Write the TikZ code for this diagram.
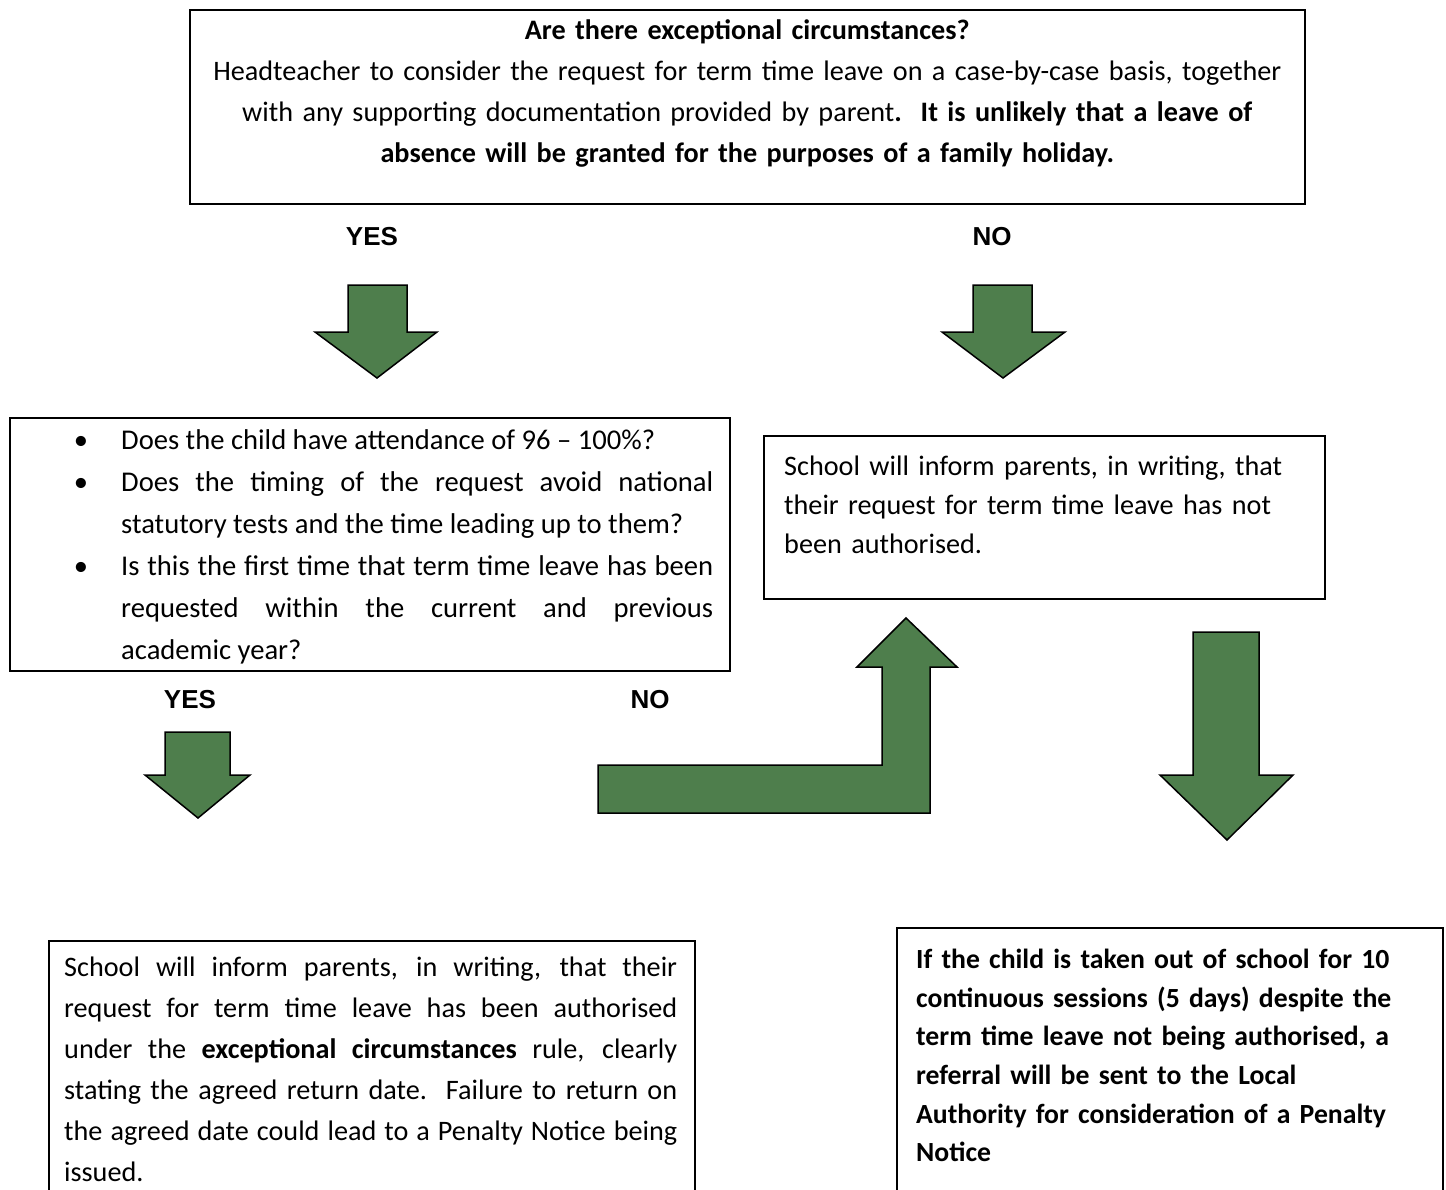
\documentclass[tikz,border=0pt]{standalone}
\usepackage{fontspec}
\setmainfont{Carlito}
\newfontfamily\arialfont{Liberation Sans}
\usetikzlibrary{positioning,calc}
\definecolor{arrowGreen}{RGB}{78,126,76}
\tikzstyle{bX}=[draw,line width=1.5pt,inner sep=0pt,anchor=north west]
\tikzstyle{tX}=[inner sep=0pt,anchor=north west,font=\fontsize{28.2}{41}\selectfont]
\tikzstyle{lbl}=[inner sep=0pt,font=\arialfont\bfseries\fontsize{26}{30}\selectfont]
\tikzstyle{bArrow}=[fill=arrowGreen,draw=black,line width=1.5pt,line join=miter]
\newcommand{\bItem}{\noindent\llap{\textbullet\hspace{33pt}}}

\begin{document}
\begin{tikzpicture}[x=1pt,y=-1pt]%[x=1 px, y=-1 px]
\useasboundingbox (0,0) rectangle (1446,1189);
                \node[bX,minimum width=1115pt,minimum height=194pt] (qBox) at (189,9) {};
                \node[bX,minimum width=720pt,minimum height=253pt] (critBox) at (9,417) {};
                \node[bX,minimum width=561pt,minimum height=163pt] (refBox) at (763,435) {};
                \node[bX,minimum width=646pt,minimum height=270pt] (authBox) at (48,940) {};
                \node[bX,minimum width=546pt,minimum height=280pt] (penBox) at (896,927) {};

                \node[tX,anchor=north,text width=1100pt,align=center] (qText) at ($(qBox.north)+(0,10)$)
                    {\textbf{Are there exceptional circumstances?}\\
                    Headteacher to consider the request for term time leave on a case-by-case basis, together\\
                    with any supporting documentation provided by parent\textbf{.\ \ It is unlikely that a leave of}\\
                    \textbf{absence will be granted for the purposes of a family holiday.}};
                \node[tX,text width=592pt,align=justify,font=\fontsize{28.6}{42}\selectfont] (critText) at ($(critBox.north west)+(112,12)$)
                    {\bItem Does the child have attendance of 96 -- 100\%?\par
                    \bItem Does the timing of the request avoid national\linebreak statutory tests and the time leading up to them?\par
                    \bItem Is this the first time that term time leave has been\linebreak requested within the current and previous\linebreak academic year?};
                \node[tX,text width=540pt,align=left,font=\fontsize{28.2}{39}\selectfont] (refText) at ($(refBox.north west)+(21,21)$)
                    {School will inform parents, in writing, that\\
                    their request for term time leave has not\\
                    been authorised.};
                \node[tX,text width=613pt,align=justify] (authText) at ($(authBox.north west)+(16,17)$)
                    {School will inform parents, in writing, that their\linebreak
                    request for term time leave has been authorised\linebreak
                    under the \textbf{exceptional circumstances} rule, clearly\linebreak
                    stating the agreed return date.\ \ Failure to return on\linebreak
                    the agreed date could lead to a Penalty Notice being\linebreak
                    issued.};
                \node[tX,text width=520pt,align=left,font=\bfseries\fontsize{27.7}{38.6}\selectfont] (penText) at ($(penBox.north west)+(20,22)$)
                    {If the child is taken out of school for 10\\
                    continuous sessions (5 days) despite the\\
                    term time leave not being authorised, a\\
                    referral will be sent to the Local\\
                    Authority for consideration of a Penalty\\
                    Notice};

                \node[lbl] (yes1) at (372,237) {YES};
                \node[lbl] (no1) at (992,237) {NO};
                \node[lbl] (yes2) at (190,700) {YES};
                \node[lbl] (no2) at (650,700) {NO};

                \draw[bArrow] (348,285) -- (407,285) -- (407,332) -- (437,332) -- (377,378) -- (315,332) -- (348,332) -- cycle;
                \draw[bArrow] (973,285) -- (1032,285) -- (1032,332) -- (1065,332) -- (1003,378) -- (942,332) -- (973,332) -- cycle;
                \draw[bArrow] (165,732) -- (230,732) -- (230,775) -- (250,775) -- (198,818) -- (145,775) -- (165,775) -- cycle;
                \draw[bArrow] (598,765) -- (882,765) -- (882,667) -- (857,667) -- (906,618) -- (957,667) -- (930,667) -- (930,813) -- (598,813) -- cycle;
                \draw[bArrow] (1193,632) -- (1259,632) -- (1259,775) -- (1293,775) -- (1227,840) -- (1160,775) -- (1193,775) -- cycle;
\end{tikzpicture}
\end{document}
